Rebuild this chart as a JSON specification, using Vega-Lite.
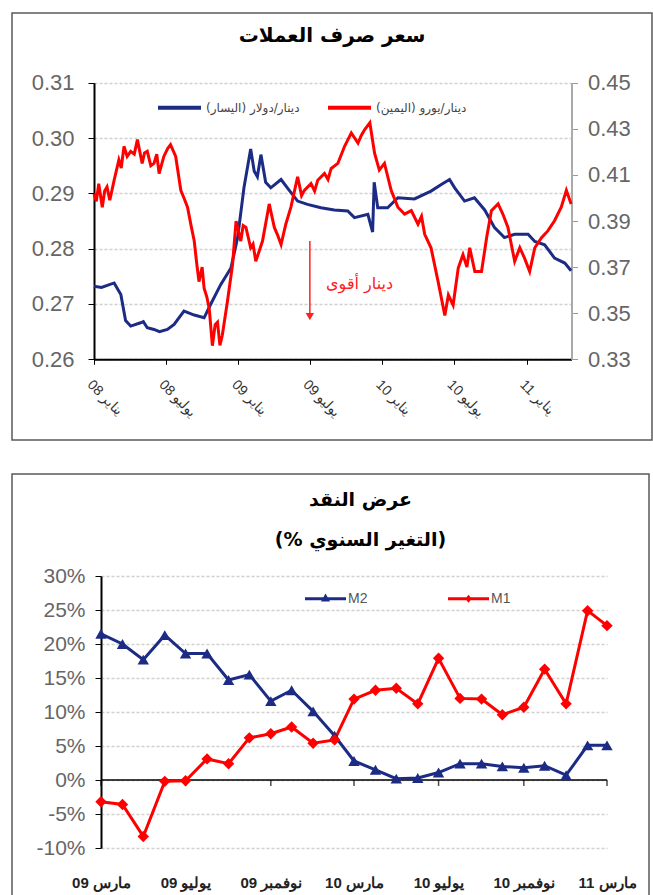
{
  "$schema": "https://vega.github.io/schema/vega-lite/v6.json",
  "padding": {"left": 11, "top": 12, "right": 2, "bottom": 0},
  "spacing": 32,
  "config": {
    "view": {"stroke": "#5a5a5a", "strokeWidth": 1.5},
    "font": "Liberation Sans",
    "axis": {"labelFont": "Liberation Sans", "title": null}
  },
  "resolve": {"scale": {"color": "independent"}, "legend": {"color": "independent"}},
  "datasets": {
    "blue": [
      {"d": "2008-01-01", "v": 0.2732}, {"d": "2008-01-20", "v": 0.2730}, {"d": "2008-02-21", "v": 0.2738}, {"d": "2008-03-09", "v": 0.2717},
      {"d": "2008-03-21", "v": 0.2670}, {"d": "2008-04-03", "v": 0.2660}, {"d": "2008-04-28", "v": 0.2666}, {"d": "2008-05-05", "v": 0.2668},
      {"d": "2008-05-15", "v": 0.2657}, {"d": "2008-06-01", "v": 0.2654}, {"d": "2008-06-15", "v": 0.2650}, {"d": "2008-07-05", "v": 0.2654},
      {"d": "2008-07-22", "v": 0.2663}, {"d": "2008-08-16", "v": 0.2687}, {"d": "2008-09-11", "v": 0.2680}, {"d": "2008-10-06", "v": 0.2675},
      {"d": "2008-10-23", "v": 0.2700}, {"d": "2008-11-17", "v": 0.2735}, {"d": "2008-12-13", "v": 0.2765}, {"d": "2008-12-30", "v": 0.2820},
      {"d": "2009-01-15", "v": 0.2910}, {"d": "2009-02-01", "v": 0.2980}, {"d": "2009-02-10", "v": 0.2940}, {"d": "2009-02-18", "v": 0.2930},
      {"d": "2009-02-27", "v": 0.2970}, {"d": "2009-03-11", "v": 0.2920}, {"d": "2009-03-24", "v": 0.2910}, {"d": "2009-04-19", "v": 0.2925},
      {"d": "2009-05-05", "v": 0.2910}, {"d": "2009-05-31", "v": 0.2886}, {"d": "2009-06-25", "v": 0.2880}, {"d": "2009-07-29", "v": 0.2874},
      {"d": "2009-09-01", "v": 0.2870}, {"d": "2009-10-05", "v": 0.2868}, {"d": "2009-10-22", "v": 0.2856}, {"d": "2009-11-25", "v": 0.2862},
      {"d": "2009-12-07", "v": 0.2830}, {"d": "2009-12-11", "v": 0.2920}, {"d": "2009-12-20", "v": 0.2874}, {"d": "2010-01-14", "v": 0.2874},
      {"d": "2010-02-09", "v": 0.2892}, {"d": "2010-03-23", "v": 0.2890}, {"d": "2010-05-04", "v": 0.2904}, {"d": "2010-05-30", "v": 0.2916},
      {"d": "2010-06-20", "v": 0.2925}, {"d": "2010-07-03", "v": 0.2910}, {"d": "2010-07-28", "v": 0.2886}, {"d": "2010-08-22", "v": 0.2892},
      {"d": "2010-09-17", "v": 0.2870}, {"d": "2010-10-12", "v": 0.2838}, {"d": "2010-11-06", "v": 0.2820}, {"d": "2010-12-02", "v": 0.2826},
      {"d": "2011-01-05", "v": 0.2826}, {"d": "2011-01-22", "v": 0.2813}, {"d": "2011-02-16", "v": 0.2807}, {"d": "2011-03-13", "v": 0.2783},
      {"d": "2011-04-08", "v": 0.2774}, {"d": "2011-04-24", "v": 0.2760}
    ],
    "red": [
      {"d": "2008-01-01", "v": 0.4018}, {"d": "2008-01-07", "v": 0.3985}, {"d": "2008-01-13", "v": 0.4062}, {"d": "2008-01-22", "v": 0.3960},
      {"d": "2008-01-28", "v": 0.4030}, {"d": "2008-02-03", "v": 0.4048}, {"d": "2008-02-10", "v": 0.3990}, {"d": "2008-02-21", "v": 0.4077},
      {"d": "2008-03-04", "v": 0.4165}, {"d": "2008-03-10", "v": 0.4130}, {"d": "2008-03-17", "v": 0.4224}, {"d": "2008-03-25", "v": 0.4180},
      {"d": "2008-04-03", "v": 0.4202}, {"d": "2008-04-12", "v": 0.4190}, {"d": "2008-04-20", "v": 0.4253}, {"d": "2008-05-02", "v": 0.4150},
      {"d": "2008-05-08", "v": 0.4195}, {"d": "2008-05-15", "v": 0.4202}, {"d": "2008-05-24", "v": 0.4140}, {"d": "2008-06-01", "v": 0.4150},
      {"d": "2008-06-08", "v": 0.4190}, {"d": "2008-06-14", "v": 0.4106}, {"d": "2008-06-26", "v": 0.4180}, {"d": "2008-07-06", "v": 0.4215},
      {"d": "2008-07-13", "v": 0.4231}, {"d": "2008-07-26", "v": 0.4180}, {"d": "2008-08-08", "v": 0.4033}, {"d": "2008-08-16", "v": 0.4000},
      {"d": "2008-08-25", "v": 0.3960}, {"d": "2008-09-03", "v": 0.3880}, {"d": "2008-09-11", "v": 0.3813}, {"d": "2008-09-17", "v": 0.3720},
      {"d": "2008-09-23", "v": 0.3637}, {"d": "2008-10-01", "v": 0.3700}, {"d": "2008-10-06", "v": 0.3608}, {"d": "2008-10-13", "v": 0.3570},
      {"d": "2008-10-19", "v": 0.3520}, {"d": "2008-10-27", "v": 0.3359}, {"d": "2008-11-03", "v": 0.3450}, {"d": "2008-11-09", "v": 0.3461},
      {"d": "2008-11-15", "v": 0.3360}, {"d": "2008-11-21", "v": 0.3403}, {"d": "2008-12-04", "v": 0.3550}, {"d": "2008-12-17", "v": 0.3710},
      {"d": "2008-12-26", "v": 0.3900}, {"d": "2009-01-07", "v": 0.3813}, {"d": "2009-01-13", "v": 0.3880}, {"d": "2009-01-20", "v": 0.3872},
      {"d": "2009-02-01", "v": 0.3784}, {"d": "2009-02-07", "v": 0.3800}, {"d": "2009-02-14", "v": 0.3725}, {"d": "2009-03-03", "v": 0.3813},
      {"d": "2009-03-20", "v": 0.3974}, {"d": "2009-04-02", "v": 0.3872}, {"d": "2009-04-10", "v": 0.3840}, {"d": "2009-04-19", "v": 0.3798},
      {"d": "2009-05-01", "v": 0.3886}, {"d": "2009-05-14", "v": 0.3960}, {"d": "2009-05-31", "v": 0.4092}, {"d": "2009-06-10", "v": 0.4010},
      {"d": "2009-06-17", "v": 0.4033}, {"d": "2009-07-04", "v": 0.4062}, {"d": "2009-07-13", "v": 0.4030}, {"d": "2009-07-21", "v": 0.4077},
      {"d": "2009-08-07", "v": 0.4106}, {"d": "2009-08-16", "v": 0.4080}, {"d": "2009-08-24", "v": 0.4128}, {"d": "2009-09-10", "v": 0.4150},
      {"d": "2009-09-27", "v": 0.4224}, {"d": "2009-10-14", "v": 0.4282}, {"d": "2009-10-31", "v": 0.4238}, {"d": "2009-11-08", "v": 0.4270},
      {"d": "2009-11-17", "v": 0.4297}, {"d": "2009-11-30", "v": 0.4326}, {"d": "2009-12-06", "v": 0.4260}, {"d": "2009-12-12", "v": 0.4194},
      {"d": "2009-12-24", "v": 0.4121}, {"d": "2010-01-06", "v": 0.4150}, {"d": "2010-01-23", "v": 0.4033}, {"d": "2010-02-09", "v": 0.3960},
      {"d": "2010-02-26", "v": 0.3930}, {"d": "2010-03-15", "v": 0.3945}, {"d": "2010-04-01", "v": 0.3886}, {"d": "2010-04-10", "v": 0.3920},
      {"d": "2010-04-18", "v": 0.3842}, {"d": "2010-05-04", "v": 0.3784}, {"d": "2010-05-22", "v": 0.3637}, {"d": "2010-06-08", "v": 0.3490},
      {"d": "2010-06-17", "v": 0.3579}, {"d": "2010-06-29", "v": 0.3535}, {"d": "2010-07-12", "v": 0.3696}, {"d": "2010-07-24", "v": 0.3754},
      {"d": "2010-08-03", "v": 0.3700}, {"d": "2010-08-10", "v": 0.3784}, {"d": "2010-08-23", "v": 0.3681}, {"d": "2010-09-09", "v": 0.3681},
      {"d": "2010-09-22", "v": 0.3828}, {"d": "2010-10-04", "v": 0.3945}, {"d": "2010-10-21", "v": 0.3974}, {"d": "2010-11-02", "v": 0.3930},
      {"d": "2010-11-15", "v": 0.3872}, {"d": "2010-12-02", "v": 0.3725}, {"d": "2010-12-15", "v": 0.3784}, {"d": "2010-12-27", "v": 0.3739},
      {"d": "2011-01-09", "v": 0.3681}, {"d": "2011-01-22", "v": 0.3784}, {"d": "2011-02-08", "v": 0.3828}, {"d": "2011-02-24", "v": 0.3857},
      {"d": "2011-03-13", "v": 0.3901}, {"d": "2011-03-30", "v": 0.3960}, {"d": "2011-04-12", "v": 0.4033}, {"d": "2011-04-24", "v": 0.3974}
    ],
    "arrow": [{"d": "2009-07-01", "y1": 0.2814, "y2": 0.2677}],
    "note": [{"d": "2009-11-04", "v": 0.2736, "t": "دينار أقوى"}],
    "ticks": [{"d": "2009-03-01"}, {"d": "2009-07-01"}, {"d": "2009-11-01"}, {"d": "2010-03-01"}, {"d": "2010-07-01"}, {"d": "2010-11-01"}, {"d": "2011-03-01"}],
    "money": [
      {"d": "2009-03-01", "s": "M2", "v": 21.5}, {"d": "2009-04-01", "s": "M2", "v": 20.0}, {"d": "2009-05-01", "s": "M2", "v": 17.7},
      {"d": "2009-06-01", "s": "M2", "v": 21.3}, {"d": "2009-07-01", "s": "M2", "v": 18.6}, {"d": "2009-08-01", "s": "M2", "v": 18.6},
      {"d": "2009-09-01", "s": "M2", "v": 14.7}, {"d": "2009-10-01", "s": "M2", "v": 15.5}, {"d": "2009-11-01", "s": "M2", "v": 11.6},
      {"d": "2009-12-01", "s": "M2", "v": 13.2}, {"d": "2010-01-01", "s": "M2", "v": 10.1}, {"d": "2010-02-01", "s": "M2", "v": 6.5},
      {"d": "2010-03-01", "s": "M2", "v": 2.8}, {"d": "2010-04-01", "s": "M2", "v": 1.5}, {"d": "2010-05-01", "s": "M2", "v": 0.2},
      {"d": "2010-06-01", "s": "M2", "v": 0.3}, {"d": "2010-07-01", "s": "M2", "v": 1.1}, {"d": "2010-08-01", "s": "M2", "v": 2.4},
      {"d": "2010-09-01", "s": "M2", "v": 2.4}, {"d": "2010-10-01", "s": "M2", "v": 2.0}, {"d": "2010-11-01", "s": "M2", "v": 1.8},
      {"d": "2010-12-01", "s": "M2", "v": 2.1}, {"d": "2011-01-01", "s": "M2", "v": 0.7}, {"d": "2011-02-01", "s": "M2", "v": 5.1},
      {"d": "2011-03-01", "s": "M2", "v": 5.1},
      {"d": "2009-03-01", "s": "M1", "v": -3.2}, {"d": "2009-04-01", "s": "M1", "v": -3.6}, {"d": "2009-05-01", "s": "M1", "v": -8.3},
      {"d": "2009-06-01", "s": "M1", "v": -0.2}, {"d": "2009-07-01", "s": "M1", "v": -0.1}, {"d": "2009-08-01", "s": "M1", "v": 3.1},
      {"d": "2009-09-01", "s": "M1", "v": 2.4}, {"d": "2009-10-01", "s": "M1", "v": 6.2}, {"d": "2009-11-01", "s": "M1", "v": 6.8},
      {"d": "2009-12-01", "s": "M1", "v": 7.8}, {"d": "2010-01-01", "s": "M1", "v": 5.4}, {"d": "2010-02-01", "s": "M1", "v": 5.9},
      {"d": "2010-03-01", "s": "M1", "v": 11.9}, {"d": "2010-04-01", "s": "M1", "v": 13.2}, {"d": "2010-05-01", "s": "M1", "v": 13.5},
      {"d": "2010-06-01", "s": "M1", "v": 11.2}, {"d": "2010-07-01", "s": "M1", "v": 17.9}, {"d": "2010-08-01", "s": "M1", "v": 12.0},
      {"d": "2010-09-01", "s": "M1", "v": 11.9}, {"d": "2010-10-01", "s": "M1", "v": 9.6}, {"d": "2010-11-01", "s": "M1", "v": 10.7},
      {"d": "2010-12-01", "s": "M1", "v": 16.3}, {"d": "2011-01-01", "s": "M1", "v": 11.2}, {"d": "2011-02-01", "s": "M1", "v": 24.9},
      {"d": "2011-03-01", "s": "M1", "v": 22.7}
    ]
  },
  "vconcat": [
    {
      "width": 640,
      "height": 427,
      "title": {"text": "سعر صرف العملات", "anchor": "middle", "frame": "group", "offset": -33, "baseline": "top", "font": "DejaVu Sans", "fontSize": 20, "fontWeight": "bold", "color": "#000"},
      "layer": [
        {
          "layer": [
            {
              "data": {"name": "blue"},
              "mark": {"type": "line", "strokeWidth": 3},
              "encoding": {
                "x": {
                  "field": "d", "type": "temporal",
                  "scale": {"type": "utc", "domain": [{"year": 2008, "month": 1, "date": 1, "utc": true}, {"year": 2011, "month": 4, "date": 25, "utc": true}], "range": [82, 559.5]},
                  "axis": {
                    "orient": "bottom", "offset": -80.7,
                    "values": [{"year": 2008, "month": 1, "date": 1, "utc": true}, {"year": 2008, "month": 7, "date": 1, "utc": true}, {"year": 2009, "month": 1, "date": 1, "utc": true}, {"year": 2009, "month": 7, "date": 1, "utc": true}, {"year": 2010, "month": 1, "date": 1, "utc": true}, {"year": 2010, "month": 7, "date": 1, "utc": true}, {"year": 2011, "month": 1, "date": 1, "utc": true}],
                    "labelExpr": "(utcmonth(datum.value) == 0 ? 'يناير ' : 'يوليو ') + utcFormat(datum.value, '%y')",
                    "labelAngle": 45, "labelFontSize": 14, "labelColor": "#333", "labelPadding": 13, "labelOverlap": false,
                    "tickSize": 5, "tickColor": "#000", "domainColor": "#000", "domainWidth": 2, "grid": false
                  }
                },
                "y": {
                  "field": "v", "type": "quantitative",
                  "scale": {"domain": [0.26, 0.31], "range": [346.3, 69.7], "zero": false},
                  "axis": {
                    "orient": "left", "offset": -82, "values": [0.26, 0.27, 0.28, 0.29, 0.30, 0.31], "format": ".2f",
                    "labelFontSize": 22, "labelColor": "#666", "labelPadding": 14, "tickSize": 6, "tickColor": "#000",
                    "domainColor": "#000", "domainWidth": 2, "grid": true, "gridColor": "#d0d0d0", "gridDash": [3, 2], "gridWidth": 1.5
                  }
                },
                "color": {
                  "datum": "دينار/دولار (اليسار)", "type": "nominal",
                  "scale": {"domain": ["دينار/دولار (اليسار)", "دينار/يورو (اليمين)"], "range": ["#1c2b84", "#ff0000"]},
                  "legend": {
                    "orient": "none", "legendX": 144, "legendY": 71, "direction": "horizontal", "title": null,
                    "symbolType": "stroke", "symbolSize": 1849, "symbolStrokeWidth": 4,
                    "labelFont": "DejaVu Sans", "labelFontSize": 12, "labelColor": "#444", "columnPadding": 20, "labelOffset": 3
                  }
                }
              }
            },
            {
              "data": {"name": "arrow"},
              "mark": {"type": "rule", "color": "#ff2020", "strokeWidth": 1.5},
              "encoding": {
                "x": {"field": "d", "type": "temporal"},
                "y": {"field": "y1", "type": "quantitative"},
                "y2": {"field": "y2"}
              }
            },
            {
              "data": {"name": "arrow"},
              "mark": {"type": "point", "shape": "triangle-down", "filled": true, "color": "#ff2020", "size": 70, "opacity": 1},
              "encoding": {
                "x": {"field": "d", "type": "temporal"},
                "y": {"field": "y2", "type": "quantitative"}
              }
            },
            {
              "data": {"name": "note"},
              "mark": {"type": "text", "color": "#ff2020", "font": "DejaVu Sans", "fontSize": 16},
              "encoding": {
                "x": {"field": "d", "type": "temporal"},
                "y": {"field": "v", "type": "quantitative"},
                "text": {"field": "t"}
              }
            }
          ]
        },
        {
          "data": {"name": "red"},
          "mark": {"type": "line", "strokeWidth": 3},
          "encoding": {
            "x": {"field": "d", "type": "temporal"},
            "y": {
              "field": "v", "type": "quantitative",
              "scale": {"domain": [0.33, 0.45], "range": [346.3, 69.7], "zero": false},
              "axis": {
                "orient": "right", "offset": -80.5, "values": [0.33, 0.35, 0.37, 0.39, 0.41, 0.43, 0.45], "format": ".2f",
                "labelFontSize": 22, "labelColor": "#666", "labelPadding": 10, "tickSize": 6, "tickColor": "#999",
                "domainColor": "#aaa", "domainWidth": 2, "grid": false
              }
            },
            "color": {"datum": "دينار/يورو (اليمين)", "type": "nominal"}
          }
        }
      ],
      "resolve": {"scale": {"y": "independent"}}
    },
    {
      "width": 637,
      "height": 440,
      "title": {"text": ["عرض النقد", "(% التغير السنوي)"], "anchor": "middle", "frame": "group", "offset": -76, "baseline": "top", "dx": 30, "font": "DejaVu Sans", "fontSize": 19, "fontWeight": "bold", "lineHeight": 40, "color": "#000"},
      "layer": [
        {
          "data": {"values": [{}]},
          "mark": {"type": "rule", "color": "#000", "strokeWidth": 1.5},
          "encoding": {
            "x": {"datum": {"year": 2009, "month": 3, "date": 1, "utc": true}, "type": "temporal"},
            "x2": {"datum": {"year": 2011, "month": 3, "date": 1, "utc": true}},
            "y": {"datum": 0, "type": "quantitative"}
          }
        },
        {
          "data": {"name": "ticks"},
          "mark": {"type": "tick", "orient": "vertical", "size": 6, "thickness": 1.5, "color": "#000", "yOffset": 3},
          "encoding": {
            "x": {"field": "d", "type": "temporal"},
            "y": {"datum": 0, "type": "quantitative"}
          }
        },
        {
          "data": {"name": "money"},
          "mark": {"type": "line", "strokeWidth": 3},
          "encoding": {
            "x": {
              "field": "d", "type": "temporal",
              "scale": {"type": "utc", "domain": [{"year": 2009, "month": 3, "date": 1, "utc": true}, {"year": 2011, "month": 3, "date": 1, "utc": true}], "range": [89, 595]},
              "axis": {
                "orient": "bottom", "offset": -66, "domain": false, "ticks": false, "grid": false,
                "values": [{"year": 2009, "month": 3, "date": 1, "utc": true}, {"year": 2009, "month": 7, "date": 1, "utc": true}, {"year": 2009, "month": 11, "date": 1, "utc": true}, {"year": 2010, "month": 3, "date": 1, "utc": true}, {"year": 2010, "month": 7, "date": 1, "utc": true}, {"year": 2010, "month": 11, "date": 1, "utc": true}, {"year": 2011, "month": 3, "date": 1, "utc": true}],
                "labelExpr": "(utcmonth(datum.value) == 2 ? 'مارس ' : utcmonth(datum.value) == 6 ? 'يوليو ' : 'نوفمبر ') + utcFormat(datum.value, '%y')",
                "labelAngle": 0, "labelFontSize": 15, "labelFontWeight": "bold", "labelColor": "#222", "labelPadding": 27, "labelOverlap": false, "labelFlush": false
              }
            },
            "y": {
              "field": "v", "type": "quantitative",
              "scale": {"domain": [-10, 30], "range": [374, 102], "zero": false},
              "axis": {
                "orient": "left", "offset": -89, "values": [-10, -5, 0, 5, 10, 15, 20, 25, 30],
                "labelExpr": "datum.value + '%'",
                "labelFontSize": 21, "labelColor": "#666", "labelPadding": 10, "tickSize": 6, "tickColor": "#000",
                "domainColor": "#000", "domainWidth": 2, "grid": true, "gridColor": "#d0d0d0", "gridDash": [3, 2], "gridWidth": 1.5
              }
            },
            "color": {
              "field": "s", "type": "nominal",
              "scale": {"domain": ["M2", "M1"], "range": ["#1c2b84", "#ff0000"]},
              "legend": {
                "orient": "none", "legendX": 293, "legendY": 104, "direction": "horizontal", "title": null,
                "symbolSize": 1681, "labelFontSize": 14, "labelColor": "#555", "columnPadding": 80, "labelOffset": 2,
                "encode": {
                  "symbols": {
                    "update": {
                      "shape": {"signal": "datum.value == 'M2' ? 'M-1,-0.07L1,-0.07L1,0.07L-1,0.07Z M0,-0.26L0.22,0.14L-0.22,0.14Z' : 'M-1,-0.07L1,-0.07L1,0.07L-1,0.07Z M0,-0.2L0.16,0L0,0.2L-0.16,0Z'"},
                      "fill": {"signal": "datum.value == 'M2' ? '#1c2b84' : '#ff0000'"},
                      "stroke": {"value": "transparent"},
                      "strokeWidth": {"value": 0},
                      "opacity": {"value": 1}
                    }
                  }
                }
              }
            }
          }
        },
        {
          "data": {"name": "money"},
          "mark": {"type": "point", "filled": true, "opacity": 1, "size": 130},
          "encoding": {
            "x": {"field": "d", "type": "temporal"},
            "y": {"field": "v", "type": "quantitative"},
            "color": {"field": "s", "type": "nominal"},
            "shape": {"field": "s", "type": "nominal", "scale": {"domain": ["M2", "M1"], "range": ["triangle-up", "diamond"]}, "legend": null}
          }
        }
      ]
    }
  ]
}
